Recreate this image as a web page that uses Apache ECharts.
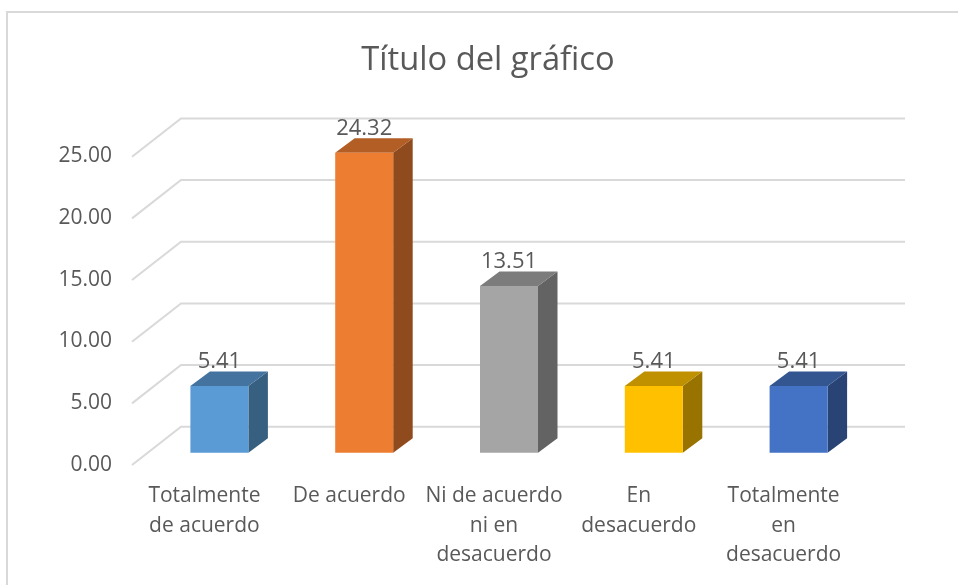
<!DOCTYPE html>
<html>
<head>
<meta charset="utf-8">
<style>
  html, body { margin: 0; padding: 0; background: #fff; }
  #chart { width: 958px; height: 585px; }
</style>
<script src="https://cdn.jsdelivr.net/npm/echarts@6/dist/echarts.min.js"></script>
</head>
<body>
<div id="chart"></div>
<script>
const categories = [
  'Totalmente\nde acuerdo',
  'De acuerdo',
  'Ni de acuerdo\nni en\ndesacuerdo',
  'En\ndesacuerdo',
  'Totalmente\nen\ndesacuerdo'
];
const values = [5.41, 24.32, 13.51, 5.41, 5.41];
const yTicks = [0, 5, 10, 15, 20, 25];

const frontColors = ['#5B9BD5', '#ED7D31', '#A5A5A5', '#FFC000', '#4472C4'];
const topColors = ['#44739F', '#B25E25', '#7C7C7C', '#BF9000', '#335691'];
const sideColors = ['#376080', '#8F4B1D', '#636363', '#997300', '#294474'];

const FONT = '"Open Sans", sans-serif';
const TEXT = '#595959';

const chart = echarts.init(document.getElementById('chart'), null, { renderer: 'canvas' });

// floor lines: front stub going to the back wall, then along the wall
function renderWall(params, api) {
  const p = api.coord([0, api.value(1)]);
  const band = api.size([1, 0])[0];
  const x0 = p[0] - band / 2;
  return {
    type: 'polyline',
    silent: true,
    shape: {
      points: [
        [x0 - 15, p[1] + 12.3],
        [x0 + 34, p[1] - 26],
        [x0 + band * 5 + 34, p[1] - 26]
      ]
    },
    style: { stroke: '#D9D9D9', lineWidth: 2, fill: null }
  };
}

function renderBar(params, api) {
  const i = api.value(0);
  const top = api.coord([i, api.value(1)]);
  const base = api.coord([i, 0]);
  const w = 58;
  const left = top[0] - w / 2;
  const right = top[0] + w / 2;
  const dx = 19.5;
  const dy = 14.5;
  return {
    type: 'group',
    children: [
      {
        type: 'polygon',
        shape: { points: [[right, top[1]], [right + dx, top[1] - dy], [right + dx, base[1] - dy], [right, base[1]]] },
        style: { fill: sideColors[i] }
      },
      {
        type: 'polygon',
        shape: { points: [[left, top[1]], [left + dx, top[1] - dy], [right + dx, top[1] - dy], [right, top[1]]] },
        style: { fill: topColors[i] }
      },
      {
        type: 'rect',
        shape: { x: left, y: top[1], width: w, height: base[1] - top[1] },
        style: { fill: frontColors[i] }
      },
      {
        type: 'text',
        z2: 10,
        style: {
          x: top[0],
          y: top[1] - 24,
          text: api.value(1).toFixed(2),
          align: 'center',
          verticalAlign: 'middle',
          font: '22px ' + FONT,
          fill: TEXT
        }
      }
    ]
  };
}

chart.setOption({
  animation: false,
  backgroundColor: '#fff',
  title: {
    text: 'Título del gráfico',
    left: 483,
    top: 39,
    textAlign: 'center',
    textStyle: { fontFamily: FONT, fontSize: 32.7, fontWeight: 'normal', color: TEXT }
  },
  graphic: [
    {
      type: 'polyline',
      silent: true,
      shape: { points: [[7, 585], [7, 12], [958, 12]] },
      style: { stroke: '#D9D9D9', lineWidth: 2, fill: null }
    }
  ],
  grid: { left: 147, right: 87, top: 144.4, bottom: 132.3 },
  xAxis: {
    type: 'category',
    data: categories,
    axisLine: { show: false },
    axisTick: { show: false },
    axisLabel: {
      interval: 0,
      margin: 29,
      lineHeight: 29.5,
      fontFamily: FONT,
      fontSize: 21,
      color: TEXT,
      padding: [0, 30, 0, 0]
    }
  },
  yAxis: {
    type: 'value',
    min: 0,
    max: 25,
    interval: 5,
    axisLine: { show: false },
    axisTick: { show: false },
    splitLine: { show: false },
    axisLabel: {
      margin: 35,
      fontFamily: FONT,
      fontSize: 21,
      lineHeight: 24,
      color: TEXT,
      verticalAlign: 'top',
      formatter: v => v.toFixed(2)
    }
  },
  series: [
    {
      type: 'custom',
      coordinateSystem: 'cartesian2d',
      clip: false,
      z: 1,
      renderItem: renderWall,
      data: yTicks.map(v => [0, v])
    },
    {
      type: 'custom',
      coordinateSystem: 'cartesian2d',
      clip: false,
      z: 2,
      renderItem: renderBar,
      data: values.map((v, i) => [i, v])
    }
  ]
});
</script>
</body>
</html>
